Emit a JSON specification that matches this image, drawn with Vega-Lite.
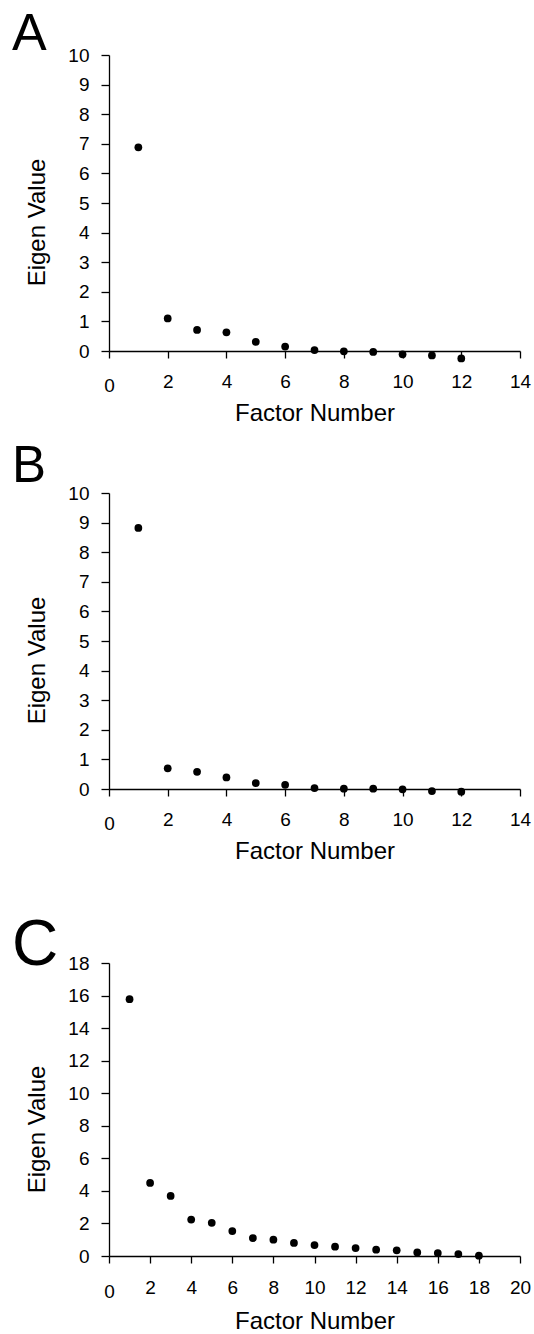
{
  "$schema": "https://vega.github.io/schema/vega-lite/v6.json",
  "background": "white",
  "padding": {"left": 12, "top": 8, "right": 5, "bottom": 0},
  "config": {
    "view": {"stroke": null},
    "font": "Liberation Sans",
    "axis": {
      "grid": false,
      "domainColor": "#000000",
      "domainWidth": 1.3,
      "tickColor": "#000000",
      "tickWidth": 1.3,
      "labelColor": "#000000",
      "labelFont": "Liberation Sans",
      "labelFontSize": 19,
      "titleFont": "Liberation Sans",
      "titleFontSize": 24,
      "titleFontWeight": "normal",
      "titleColor": "#000000"
    },
    "title": {"font": "Liberation Sans", "fontWeight": "normal", "color": "#000000", "anchor": "start", "frame": "group"}
  },
  "datasets": {
    "a": [
      {"factor": 1, "eigen": 6.88}, {"factor": 2, "eigen": 1.10}, {"factor": 3, "eigen": 0.71},
      {"factor": 4, "eigen": 0.63}, {"factor": 5, "eigen": 0.31}, {"factor": 6, "eigen": 0.15},
      {"factor": 7, "eigen": 0.03}, {"factor": 8, "eigen": -0.01}, {"factor": 9, "eigen": -0.03},
      {"factor": 10, "eigen": -0.11}, {"factor": 11, "eigen": -0.15}, {"factor": 12, "eigen": -0.25}
    ],
    "b": [
      {"factor": 1, "eigen": 8.82}, {"factor": 2, "eigen": 0.70}, {"factor": 3, "eigen": 0.58},
      {"factor": 4, "eigen": 0.39}, {"factor": 5, "eigen": 0.20}, {"factor": 6, "eigen": 0.14},
      {"factor": 7, "eigen": 0.03}, {"factor": 8, "eigen": 0.01}, {"factor": 9, "eigen": 0.01},
      {"factor": 10, "eigen": -0.01}, {"factor": 11, "eigen": -0.07}, {"factor": 12, "eigen": -0.09}
    ],
    "c": [
      {"factor": 1, "eigen": 15.78}, {"factor": 2, "eigen": 4.49}, {"factor": 3, "eigen": 3.69},
      {"factor": 4, "eigen": 2.24}, {"factor": 5, "eigen": 2.04}, {"factor": 6, "eigen": 1.53},
      {"factor": 7, "eigen": 1.10}, {"factor": 8, "eigen": 1.00}, {"factor": 9, "eigen": 0.80},
      {"factor": 10, "eigen": 0.67}, {"factor": 11, "eigen": 0.57}, {"factor": 12, "eigen": 0.49},
      {"factor": 13, "eigen": 0.39}, {"factor": 14, "eigen": 0.35}, {"factor": 15, "eigen": 0.22},
      {"factor": 16, "eigen": 0.18}, {"factor": 17, "eigen": 0.12}, {"factor": 18, "eigen": 0.02}
    ]
  },
  "spacing": 16,
  "vconcat": [
    {
      "title": {"text": "A", "fontSize": 52, "dx": -97, "offset": -15},
      "width": 411,
      "height": 296,
      "data": {"name": "a"},
      "mark": {"type": "point", "filled": true, "color": "#000000", "opacity": 1, "size": 60},
      "encoding": {
        "x": {"field": "factor", "type": "quantitative", "scale": {"domain": [0, 14], "nice": false, "zero": false},
          "axis": {"values": [0, 2, 4, 6, 8, 10, 12, 14], "tickSize": 7, "labelFlush": false, "labelOverlap": false,
            "labelPadding": {"condition": {"test": "datum.value === 0", "value": 18}, "value": 14},
            "title": "Factor Number", "titleY": 69, "titleBaseline": "alphabetic"}},
        "y": {"field": "eigen", "type": "quantitative", "scale": {"domain": [0, 10], "nice": false, "zero": false},
          "axis": {"values": [0, 1, 2, 3, 4, 5, 6, 7, 8, 9, 10], "tickSize": 8, "labelPadding": 12, "labelFlush": false, "labelOverlap": false,
            "title": "Eigen Value", "titleX": -65, "titleY": 167, "titleAngle": -90, "titleAlign": "center", "titleBaseline": "alphabetic"}}
      }
    },
    {
      "spacing": 51,
      "vconcat": [
        {
          "title": {"text": "B", "fontSize": 51, "dx": -97, "offset": -9},
          "width": 411,
          "height": 296,
          "data": {"name": "b"},
          "mark": {"type": "point", "filled": true, "color": "#000000", "opacity": 1, "size": 60},
          "encoding": {
            "x": {"field": "factor", "type": "quantitative", "scale": {"domain": [0, 14], "nice": false, "zero": false},
              "axis": {"values": [0, 2, 4, 6, 8, 10, 12, 14], "tickSize": 7, "labelFlush": false, "labelOverlap": false,
                "labelPadding": {"condition": {"test": "datum.value === 0", "value": 18}, "value": 14},
                "title": "Factor Number", "titleY": 69, "titleBaseline": "alphabetic"}},
            "y": {"field": "eigen", "type": "quantitative", "scale": {"domain": [0, 10], "nice": false, "zero": false},
              "axis": {"values": [0, 1, 2, 3, 4, 5, 6, 7, 8, 9, 10], "tickSize": 8, "labelPadding": 12, "labelFlush": false, "labelOverlap": false,
                "title": "Eigen Value", "titleX": -65, "titleY": 167, "titleAngle": -90, "titleAlign": "center", "titleBaseline": "alphabetic"}}
          }
        },
        {
          "title": {"text": "C", "fontSize": 64, "dx": -97, "offset": -24},
          "width": 411,
          "height": 293,
          "data": {"name": "c"},
          "mark": {"type": "point", "filled": true, "color": "#000000", "opacity": 1, "size": 60},
          "encoding": {
            "x": {"field": "factor", "type": "quantitative", "scale": {"domain": [0, 20], "nice": false, "zero": false},
              "axis": {"values": [0, 2, 4, 6, 8, 10, 12, 14, 16, 18, 20], "tickSize": 7, "labelFlush": false, "labelOverlap": false,
                "labelPadding": {"condition": {"test": "datum.value === 0", "value": 19}, "value": 15},
                "title": "Factor Number", "titleY": 72, "titleBaseline": "alphabetic"}},
            "y": {"field": "eigen", "type": "quantitative", "scale": {"domain": [0, 18], "nice": false, "zero": false},
              "axis": {"values": [0, 2, 4, 6, 8, 10, 12, 14, 16, 18], "tickSize": 8, "labelPadding": 12, "labelFlush": false, "labelOverlap": false,
                "title": "Eigen Value", "titleX": -65, "titleY": 166, "titleAngle": -90, "titleAlign": "center", "titleBaseline": "alphabetic"}}
          }
        }
      ]
    }
  ]
}
